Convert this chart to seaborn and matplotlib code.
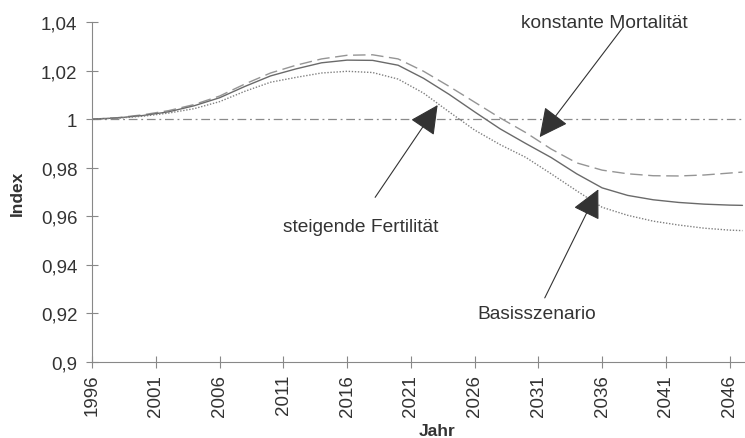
import numpy as np
import pandas as pd
import seaborn as sns
import matplotlib.pyplot as plt
from matplotlib.ticker import FuncFormatter

# Data ########################################################################
years = [1996, 1998, 2000, 2002, 2004, 2006, 2008, 2010, 2012, 2014, 2016, 2018,
         2020, 2022, 2024, 2026, 2028, 2030, 2032, 2034, 2036, 2038, 2040, 2042,
         2044, 2046, 2047]

basis = [1.000, 1.0005, 1.0015, 1.003, 1.0055, 1.0088, 1.0135, 1.0178, 1.0207,
         1.0232, 1.0243, 1.0242, 1.0222, 1.0168, 1.0102, 1.003, 0.996, 0.990,
         0.9842, 0.9775, 0.9717, 0.9686, 0.9668, 0.9657, 0.965, 0.9646, 0.9645]

konst_mortalitaet = [1.000, 1.0006, 1.0018, 1.0035, 1.006, 1.0095, 1.0145, 1.019,
                     1.0222, 1.0248, 1.0263, 1.0265, 1.0248, 1.0197, 1.0135, 1.007,
                     1.0005, 0.9945, 0.9877, 0.982, 0.979, 0.9775, 0.9767, 0.9766,
                     0.977, 0.9778, 0.9782]

steig_fertilitaet = [1.000, 1.0004, 1.0012, 1.0025, 1.0043, 1.0072, 1.0115, 1.0152,
                     1.0172, 1.019, 1.0197, 1.0192, 1.0165, 1.0107, 1.003, 0.9955,
                     0.9895, 0.9843, 0.9775, 0.9705, 0.9637, 0.9604, 0.958, 0.9564,
                     0.9551, 0.9543, 0.9541]

referenz = 1.0
x_ticks = list(range(1996, 2047, 5))
y_ticks = [0.9, 0.92, 0.94, 0.96, 0.98, 1.0, 1.02, 1.04]

# Plot ########################################################################
sns.set_style("ticks")
plt.rcParams["font.family"] = ["Liberation Sans", "DejaVu Sans"]

df = pd.DataFrame({"Jahr": years, "Basis": basis,
                   "Mortalitaet": konst_mortalitaet, "Fertilitaet": steig_fertilitaet})

fig = plt.figure(figsize=(7.45, 4.39), dpi=100)
ax = fig.add_axes([92 / 745, 1 - 363 / 439, 1 - 92 / 745, (363 - 23) / 439])

ax.axhline(referenz, color="#8a8a8a", lw=0.9, linestyle=(0, (7, 3, 1.5, 3)))
sns.lineplot(data=df, x="Jahr", y="Mortalitaet", ax=ax, color="#959595", lw=1.0,
             linestyle=(0, (9, 4)))
sns.lineplot(data=df, x="Jahr", y="Basis", ax=ax, color="#6a6a6a", lw=1.0)
sns.lineplot(data=df, x="Jahr", y="Fertilitaet", ax=ax, color="#808080", lw=1.0,
             linestyle=(0, (1, 1.2)))

ax.set_xlim(1996, 2047.2)
ax.set_ylim(0.9, 1.04)
ax.set_xticks(x_ticks)
ax.set_yticks(y_ticks)
ax.yaxis.set_major_formatter(FuncFormatter(lambda v, p: f"{v:g}".replace(".", ",")))
ax.tick_params(axis="x", labelrotation=90, pad=4)
ax.tick_params(axis="y", pad=6)
ax.tick_params(direction="inout", length=9, width=0.8, color="#888888",
               labelsize=13.5, labelcolor="#333333")
for s in ["top", "right"]:
    ax.spines[s].set_visible(False)
for s in ["left", "bottom"]:
    ax.spines[s].set_color("#888888")
    ax.spines[s].set_linewidth(0.8)

ax.set_xlabel("Jahr", fontsize=12.5, fontweight="bold", color="#333333")
ax.set_ylabel("Index", fontsize=12.5, fontweight="bold", color="#333333")
ax.xaxis.set_label_coords(0.528, -0.18)
ax.yaxis.set_label_coords(-0.103, 0.5)

# Annotations
arrow = dict(arrowstyle="-|>,head_length=0.9,head_width=0.45", mutation_scale=20,
             color="#777777", lw=0.8, fc="#333333", ec="#333333", shrinkA=0, shrinkB=0)
txt = dict(fontsize=13.8, color="#333333", ha="center", va="center")

ax.text(2036.2, 1.0397, "konstante Mortalität", **txt)
ax.annotate("", xy=(2031.1, 0.9926), xytext=(2037.6, 1.0376), arrowprops=arrow)

ax.text(2017.1, 0.9558, "steigende Fertilität", **txt)
ax.annotate("", xy=(2023.1, 1.0058), xytext=(2018.2, 0.9678), arrowprops=arrow)

ax.text(2030.9, 0.9198, "Basisszenario", **txt)
ax.annotate("", xy=(2035.7, 0.9711), xytext=(2031.5, 0.9264), arrowprops=arrow)

fig.savefig("out.png", dpi=100)
